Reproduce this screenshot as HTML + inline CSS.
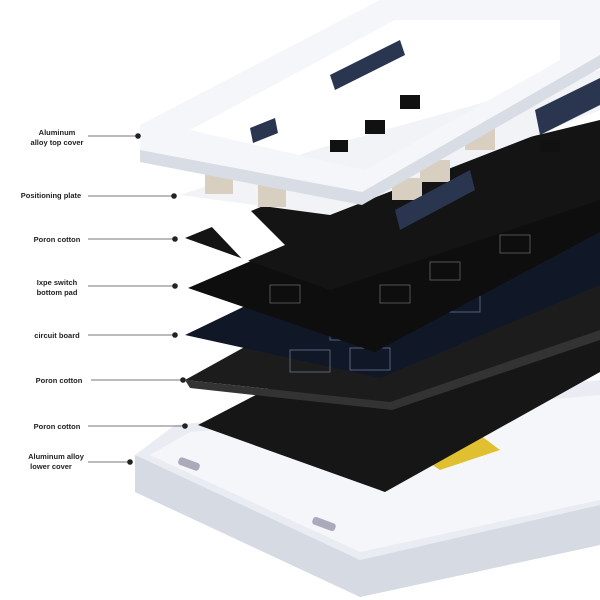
<!DOCTYPE html>
<html><head><meta charset="utf-8"><style>
html,body{margin:0;padding:0;background:#fff;width:600px;height:600px;overflow:hidden}
svg{position:absolute;left:0;top:0}
.l{font-family:"Liberation Sans",sans-serif;font-size:7.5px;font-weight:bold;fill:#222;text-anchor:middle}
</style></head><body>
<svg width="600" height="600" viewBox="0 0 600 600">
<polygon points="135,455 175,425 600,380 600,545 360,597 135,492" fill="#e9ecf2"/>
<polygon points="135,455 360,560 600,505 600,545 360,597 135,492" fill="#d6dae3"/>
<polygon points="150,455 190,432 600,395 600,500 360,552" fill="#f4f6fa"/>
<rect x="178" y="460" width="22" height="8" rx="3" fill="#aab" transform="rotate(20 189 464)"/>
<rect x="312" y="520" width="24" height="8" rx="3" fill="#aab" transform="rotate(20 324 524)"/>
<polygon points="425,460 480,435 500,450 440,470" fill="#e0c030"/>
<polygon points="198,425 300,372 600,305 600,372 385,492" fill="#161616"/>
<polygon points="185,380 270,333 600,245 600,330 390,402" fill="#1c1c1c"/>
<polygon points="185,380 390,402 600,330 600,340 392,410 190,388" fill="#333"/>
<polygon points="185,335 330,265 600,190 600,285 380,378" fill="#101828"/>
<g stroke="#6a7590" stroke-width="0.8" fill="none">
<rect x="290" y="350" width="40" height="22"/>
<rect x="350" y="348" width="40" height="22"/>
<rect x="330" y="318" width="40" height="22"/>
<rect x="440" y="290" width="40" height="22"/>
</g>
<polygon points="188,288 300,240 600,150 600,232 375,352" fill="#0e0e0e"/>
<g stroke="#666" stroke-width="0.8" fill="none">
<rect x="270" y="285" width="30" height="18"/>
<rect x="380" y="285" width="30" height="18"/>
<rect x="430" y="262" width="30" height="18"/>
<rect x="500" y="235" width="30" height="18"/>
</g>
<polygon points="185,238 290,195 600,120 600,200 330,290" fill="#141414"/>
<polygon points="210,225 250,210 285,245 245,262" fill="#fff"/>
<polygon points="180,195 320,148 600,70 600,110 330,215" fill="#f1f3f7"/>
<g fill="#111">
<rect x="330" y="140" width="18" height="12"/>
<rect x="365" y="120" width="20" height="14"/>
<rect x="400" y="95" width="20" height="14"/>
<rect x="540" y="140" width="20" height="12"/>
</g>
<g fill="#d8cfc0">
<rect x="205" y="172" width="28" height="22"/><rect x="258" y="185" width="28" height="22"/>
<rect x="392" y="178" width="30" height="22"/>
<rect x="420" y="160" width="30" height="22"/><rect x="465" y="128" width="30" height="22"/>
</g>
<path d="M140,125 L380,0 L600,0 L600,55 L362,192 L140,150 Z M190,130 L365,170 L560,60 L560,20 L395,20 Z" fill="#f5f6f9" fill-rule="evenodd"/>
<polygon points="140,150 362,192 600,55 600,68 362,205 140,162" fill="#d8dce5"/>
<polygon points="330,75 400,40 405,55 335,90" fill="#2a3550"/>
<polygon points="250,128 275,118 278,133 253,143" fill="#2a3550"/>
<polygon points="535,110 600,78 600,105 540,135" fill="#2a3550"/>
<polygon points="395,210 470,170 475,190 400,230" fill="#2a3550"/>
<g stroke="#777" stroke-width="1">
<line x1="88" y1="136" x2="138" y2="136"/><line x1="88" y1="196" x2="174" y2="196"/>
<line x1="88" y1="239" x2="175" y2="239"/><line x1="88" y1="286" x2="175" y2="286"/>
<line x1="88" y1="335" x2="175" y2="335"/><line x1="91" y1="380" x2="183" y2="380"/>
<line x1="88" y1="426" x2="185" y2="426"/><line x1="88" y1="462" x2="130" y2="462"/>
</g>
<g fill="#222">
<circle cx="138" cy="136" r="2.8"/><circle cx="174" cy="196" r="2.8"/><circle cx="175" cy="239" r="2.8"/>
<circle cx="175" cy="286" r="2.8"/><circle cx="175" cy="335" r="2.8"/><circle cx="183" cy="380" r="2.8"/>
<circle cx="185" cy="426" r="2.8"/><circle cx="130" cy="462" r="2.8"/>
</g>
<text class="l" x="57" y="135">Aluminum</text><text class="l" x="57" y="145">alloy top cover</text>
<text class="l" x="51" y="198">Positioning plate</text>
<text class="l" x="57" y="242">Poron cotton</text>
<text class="l" x="57" y="285">Ixpe switch</text><text class="l" x="57" y="295">bottom pad</text>
<text class="l" x="57" y="338">circuit board</text>
<text class="l" x="59" y="383">Poron cotton</text>
<text class="l" x="57" y="429">Poron cotton</text>
<text class="l" x="56" y="459">Aluminum alloy</text><text class="l" x="51" y="469">lower cover</text>
</svg>
</body></html>
